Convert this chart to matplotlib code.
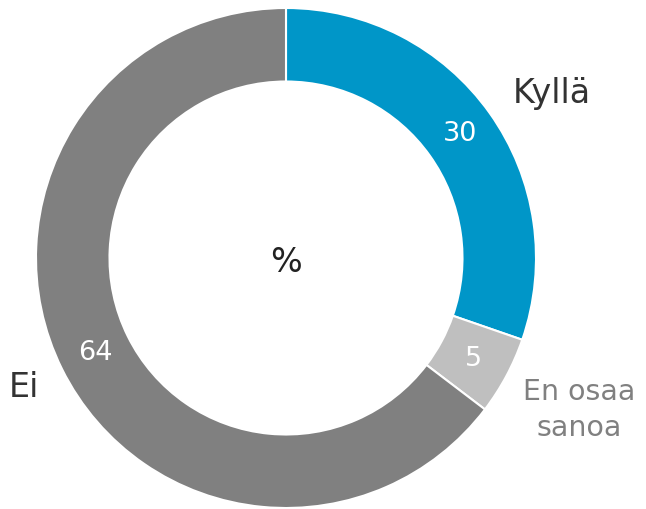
import matplotlib
matplotlib.use("Agg")
import matplotlib.pyplot as plt
import numpy as np

# data
labels = ["Kyllä", "En osaa\nsanoa", "Ei"]
values = [30, 5, 64]
colors = ["#0096C8", "#BFBFBF", "#808080"]
label_colors = ["#333333", "#808080", "#333333"]

# label placement: distance factor and angle nudge (deg)
label_dist = [1.25, 1.32, 1.17]
label_nudge = [-3.6, 0.7, 0.0]

plt.rcParams['font.family'] = ['DejaVu Sans']

fig = plt.figure(figsize=(6.46, 5.09), dpi=100)
ax = fig.add_axes([0, 0, 1, 1])

cx, cy = 286, 509 - 258
R = 250
w = 73.5

wedges, _ = ax.pie(values, colors=colors, startangle=90, counterclock=False,
                   radius=R, center=(cx, cy),
                   wedgeprops=dict(width=w, edgecolor="white", linewidth=1.5))

ax.set_xlim(0, 646)
ax.set_ylim(0, 509)
ax.set_aspect('equal')
ax.axis('off')

# numbers inside ring and category labels outside
for wd, v, lab, lc, d, nd in zip(wedges, values, labels, label_colors, label_dist, label_nudge):
    mid = (wd.theta1 + wd.theta2) / 2
    ang = np.deg2rad(mid)
    rm = R - w / 2
    ax.text(cx + rm * np.cos(ang), cy + rm * np.sin(ang), str(v),
            ha='center', va='center', color='white', fontsize=19.5)
    ang2 = np.deg2rad(mid + nd)
    ax.text(cx + R * d * np.cos(ang2), cy + R * d * np.sin(ang2), lab,
            ha='center', va='center', color=lc,
            fontsize=24 if '\n' not in lab else 20.5, linespacing=1.35)

ax.text(cx, cy - 4, "%", ha='center', va='center', color='#222222', fontsize=24)

fig.savefig("out.png", dpi=100)
